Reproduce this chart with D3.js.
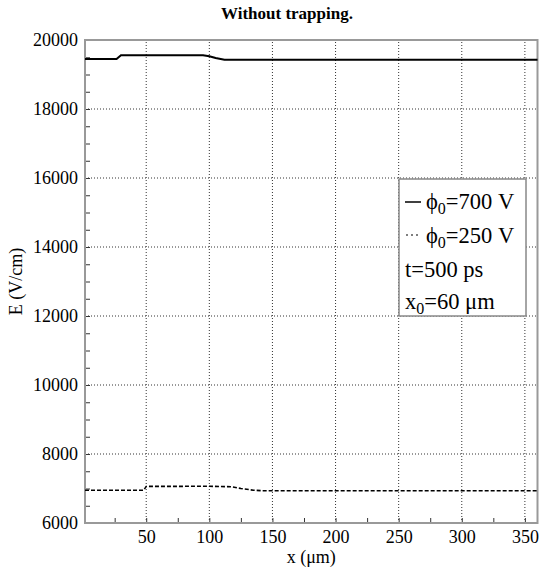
<!DOCTYPE html>
<html><head><meta charset="utf-8">
<script src="https://cdn.jsdelivr.net/npm/d3@7"></script>
<style>body{margin:0;background:#fff}svg{display:block}svg text{font-family:'Liberation Serif','DejaVu Serif',serif}</style>
</head><body>
<script>
const title = "Without trapping.";
const xLabel = "x (\u03bcm)";
const yLabel = "E (V/cm)";
const xTicks = [50,100,150,200,250,300,350];
const yTicks = [6000,8000,10000,12000,14000,16000,18000,20000];
const xDomain = [1.5, 360];
const yDomain = [6000, 20000];
const x700 = [1.5, 26.5, 30, 95, 100, 105, 112, 360];
const e700 = [19450, 19450, 19560, 19560, 19530, 19480, 19430, 19430];
const x250 = [1.5, 48, 50, 100, 118, 125, 135, 142, 360];
const e250 = [6950, 6950, 7060, 7065, 7050, 7000, 6950, 6935, 6935];

const W = 539, H = 568;
const m = {l: 85, r: 1.5, t: 40, b: 45};
const svg = d3.select("body").append("svg").attr("width", W).attr("height", H);
const x = d3.scaleLinear().domain(xDomain).range([m.l, W - m.r]);
const y = d3.scaleLinear().domain(yDomain).range([H - m.b, m.t]);
const font = "'Liberation Serif', 'DejaVu Serif', serif";

// grid
const g = svg.append("g");
g.selectAll(".gx").data(xTicks).join("line")
  .attr("x1", d => x(d)).attr("x2", d => x(d)).attr("y1", y(yDomain[0])).attr("y2", y(yDomain[1]))
  .attr("stroke", "#333").attr("stroke-width", 1).attr("stroke-dasharray", "1,2");
g.selectAll(".gy").data(yTicks.slice(1, -1)).join("line")
  .attr("y1", d => y(d)).attr("y2", d => y(d)).attr("x1", x(xDomain[0])).attr("x2", x(xDomain[1]))
  .attr("stroke", "#333").attr("stroke-width", 1).attr("stroke-dasharray", "1,2");

// axes with inward ticks
const xMinor = d3.range(25, 360, 25);
const yMinor = d3.range(6500, 20000, 500);
svg.append("g").attr("transform", `translate(0,${y(yDomain[0])})`)
  .call(d3.axisTop(x).tickValues(xMinor).tickSize(5).tickFormat(""))
  .call(s => { s.select(".domain").remove(); s.selectAll("line").attr("stroke", "#333"); });
svg.append("g").attr("transform", `translate(${x(xDomain[0])},0)`)
  .call(d3.axisRight(y).tickValues(yMinor).tickSize(5).tickFormat(""))
  .call(s => { s.select(".domain").remove(); s.selectAll("line").attr("stroke", "#333"); });
// tick labels
svg.append("g").attr("transform", `translate(0,${y(yDomain[0])})`)
  .call(d3.axisBottom(x).tickValues(xTicks).tickSize(0).tickPadding(7))
  .call(s => { s.select(".domain").remove(); s.attr("font-family", null); s.selectAll("text").style("font-family", font).attr("font-size", 18).attr("fill", "#000"); });
svg.append("g").attr("transform", `translate(${x(xDomain[0])},0)`)
  .call(d3.axisLeft(y).tickValues(yTicks).tickSize(0).tickPadding(7).tickFormat(d3.format("d")))
  .call(s => { s.select(".domain").remove(); s.attr("font-family", null); s.selectAll("text").style("font-family", font).attr("font-size", 18).attr("fill", "#000"); });

// frame
svg.append("rect").attr("x", x(xDomain[0])).attr("y", y(yDomain[1]))
  .attr("width", x(xDomain[1]) - x(xDomain[0])).attr("height", y(yDomain[0]) - y(yDomain[1]))
  .attr("fill", "none").attr("stroke", "#999").attr("stroke-width", 2);

// lines
const line = d3.line().x(d => x(d[0])).y(d => y(d[1]));
svg.append("path").datum(d3.zip(x700, e700)).attr("d", line)
  .attr("fill", "none").attr("stroke", "#000").attr("stroke-width", 2);
svg.append("path").datum(d3.zip(x250, e250)).attr("d", line)
  .attr("fill", "none").attr("stroke", "#000").attr("stroke-width", 1.6).attr("stroke-dasharray", "4,2");

// title and labels
svg.append("text").attr("x", 287).attr("y", 19).attr("text-anchor", "middle").style("font-family", font)
  .attr("font-weight", "bold").attr("font-size", 17).text(title);
svg.append("text").attr("x", (x(xDomain[0]) + x(xDomain[1])) / 2).attr("y", 563).attr("text-anchor", "middle")
  .style("font-family", font).attr("font-size", 18).text(xLabel);
svg.append("text").attr("transform", `translate(22,${(y(yDomain[0]) + y(yDomain[1])) / 2}) rotate(-90)`)
  .attr("text-anchor", "middle").style("font-family", font).attr("font-size", 18).text(yLabel);

// legend
const lg = svg.append("g");
lg.append("rect").attr("x", 399).attr("y", 179).attr("width", 127).attr("height", 137)
  .attr("fill", "#fff").attr("stroke", "#888").attr("stroke-width", 1.5);
lg.append("line").attr("x1", 405).attr("x2", 421).attr("y1", 202).attr("y2", 202).attr("stroke", "#000").attr("stroke-width", 1.5);
lg.append("line").attr("x1", 406).attr("x2", 421).attr("y1", 235).attr("y2", 235).attr("stroke", "#000").attr("stroke-width", 1.2).attr("stroke-dasharray", "2,3");
const fs = 22.5;
function sub(t, xx, yy, a, b, c) {
  const tx = lg.append("text").attr("x", xx).attr("y", yy).style("font-family", font).attr("font-size", fs);
  tx.append("tspan").text(a);
  tx.append("tspan").attr("dy", 5).attr("font-size", 16).text(b);
  tx.append("tspan").attr("dy", -5).text(c);
}
sub(lg, 426, 209, "\u03d5", "0", "=700 V");
sub(lg, 426, 243, "\u03d5", "0", "=250 V");
lg.append("text").attr("x", 405).attr("y", 277).style("font-family", font).attr("font-size", fs).text("t=500 ps");
sub(lg, 405, 309, "x", "0", "=60 \u03bcm");
</script>
</body></html>
